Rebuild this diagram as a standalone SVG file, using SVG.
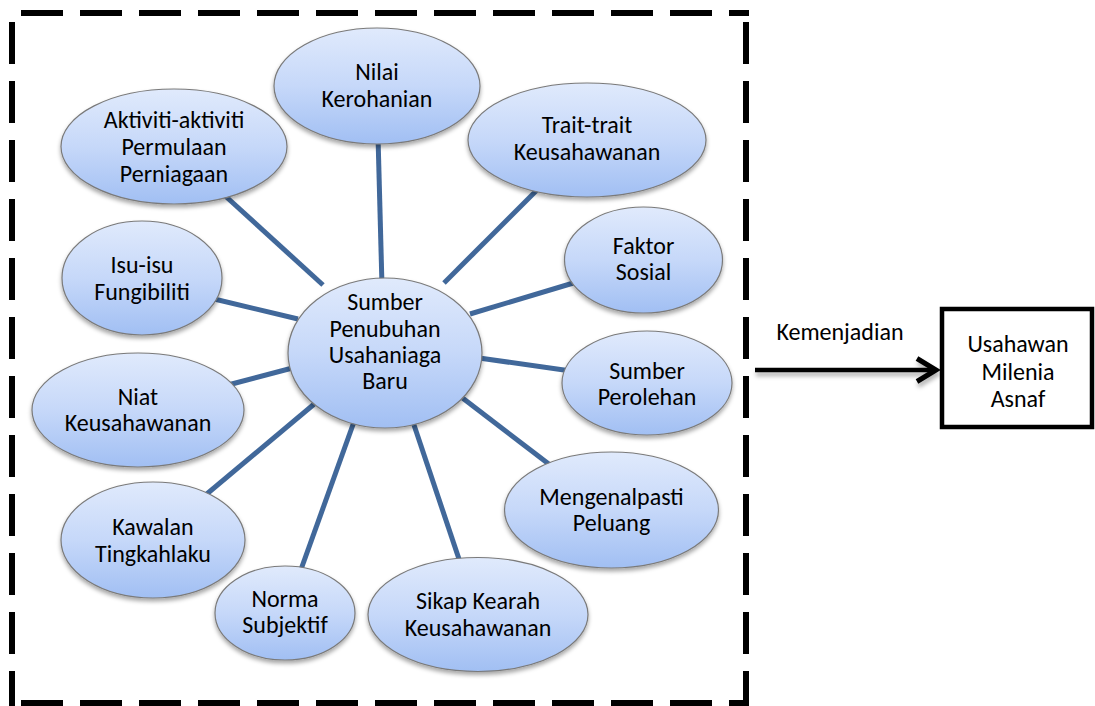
<svg xmlns="http://www.w3.org/2000/svg" width="1095" height="706" viewBox="0 0 1095 706">
<defs>
<linearGradient id="g" x1="0" y1="0" x2="0" y2="1">
<stop offset="0" stop-color="#e0eafc"/>
<stop offset="0.5" stop-color="#c6d8f9"/>
<stop offset="1" stop-color="#a1bff3"/>
</linearGradient>
<filter id="sh" x="-20%" y="-20%" width="140%" height="150%">
<feDropShadow dx="0" dy="3" stdDeviation="2" flood-color="#000" flood-opacity="0.35"/>
</filter>
<filter id="ash" x="-10%" y="-100%" width="120%" height="400%">
<feDropShadow dx="1" dy="4" stdDeviation="2" flood-color="#000" flood-opacity="0.3"/>
</filter>
</defs>
<style>
.n ellipse{fill:url(#g);stroke:#7a7a7a;stroke-width:1.2;filter:url(#sh)}
text{font-family:Calibri,Carlito,"Liberation Sans",Arial,sans-serif;font-size:24px;fill:#000;text-anchor:middle}
.c line{stroke:#41689a;stroke-width:5}
.dash{stroke:#000;stroke-width:6;stroke-dasharray:42 17;stroke-dashoffset:50;fill:none}
</style>
<g id="frame">
<line class="dash" x1="12" y1="13" x2="749" y2="13"/>
<line class="dash" x1="12" y1="13" x2="12" y2="706"/>
<line class="dash" x1="12" y1="703" x2="749" y2="703"/>
<line class="dash" x1="746" y1="13" x2="746" y2="706"/>
</g>
<g id="connectors" class="c">
<line x1="378" y1="136" x2="382" y2="286"/>
<line x1="444" y1="283" x2="541" y2="186"/>
<line x1="470" y1="314" x2="580" y2="281"/>
<line x1="472" y1="357" x2="571" y2="371"/>
<line x1="456" y1="393" x2="554" y2="468"/>
<line x1="412" y1="419" x2="461" y2="565"/>
<line x1="355" y1="419" x2="299" y2="575"/>
<line x1="319" y1="400" x2="202" y2="498"/>
<line x1="300" y1="366" x2="228" y2="385"/>
<line x1="298" y1="319" x2="210" y2="298"/>
<line x1="323" y1="285" x2="222" y2="193"/>
</g>
<g id="nilai" class="n"><ellipse cx="377" cy="86" rx="103" ry="58"/><text x="377" y="80">Nilai</text><text x="377" y="107">Kerohanian</text></g>
<g id="trait" class="n"><ellipse cx="587" cy="140" rx="119" ry="57"/><text x="587" y="133">Trait-trait</text><text x="587" y="160">Keusahawanan</text></g>
<g id="faktor" class="n"><ellipse cx="643.5" cy="260" rx="79" ry="53"/><text x="643.5" y="254">Faktor</text><text x="643.5" y="280">Sosial</text></g>
<g id="sumber-perolehan" class="n"><ellipse cx="647" cy="383" rx="85" ry="52"/><text x="647" y="379">Sumber</text><text x="647" y="405">Perolehan</text></g>
<g id="mengenalpasti" class="n"><ellipse cx="611.5" cy="510" rx="107" ry="58"/><text x="611.5" y="505">Mengenalpasti</text><text x="611.5" y="531">Peluang</text></g>
<g id="sikap" class="n"><ellipse cx="478" cy="614.5" rx="110" ry="57"/><text x="478" y="609">Sikap Kearah</text><text x="478" y="636">Keusahawanan</text></g>
<g id="norma" class="n"><ellipse cx="285" cy="613" rx="70" ry="47"/><text x="285" y="607">Norma</text><text x="285" y="633">Subjektif</text></g>
<g id="kawalan" class="n"><ellipse cx="153" cy="540" rx="92" ry="58"/><text x="153" y="535">Kawalan</text><text x="153" y="562">Tingkahlaku</text></g>
<g id="niat" class="n"><ellipse cx="138" cy="410" rx="106" ry="57"/><text x="138" y="405">Niat</text><text x="138" y="431">Keusahawanan</text></g>
<g id="isu" class="n"><ellipse cx="142" cy="278" rx="80" ry="57"/><text x="142" y="273">Isu-isu</text><text x="142" y="300">Fungibiliti</text></g>
<g id="aktiviti" class="n"><ellipse cx="174" cy="146.5" rx="113" ry="57.5"/><text x="174" y="128">Aktiviti-aktiviti</text><text x="174" y="155">Permulaan</text><text x="174" y="182">Perniagaan</text></g>
<g id="hub" class="n"><ellipse cx="385" cy="353" rx="97" ry="75"/><text x="385" y="310">Sumber</text><text x="385" y="337">Penubuhan</text><text x="385" y="363">Usahaniaga</text><text x="385" y="389">Baru</text></g>
<g id="arrow" filter="url(#ash)">
<line x1="755" y1="370" x2="934" y2="370" stroke="#000" stroke-width="4.5"/>
<polyline points="917,358.5 936,370 917,381.5" fill="none" stroke="#000" stroke-width="5" stroke-linejoin="miter"/>
</g>
<text x="840" y="340">Kemenjadian</text>
<g id="usahawan">
<rect x="942" y="309" width="150" height="118" fill="#fff" stroke="#000" stroke-width="4.5"/>
<text x="1018" y="352">Usahawan</text><text x="1018" y="380">Milenia</text><text x="1018" y="407">Asnaf</text>
</g>
</svg>
